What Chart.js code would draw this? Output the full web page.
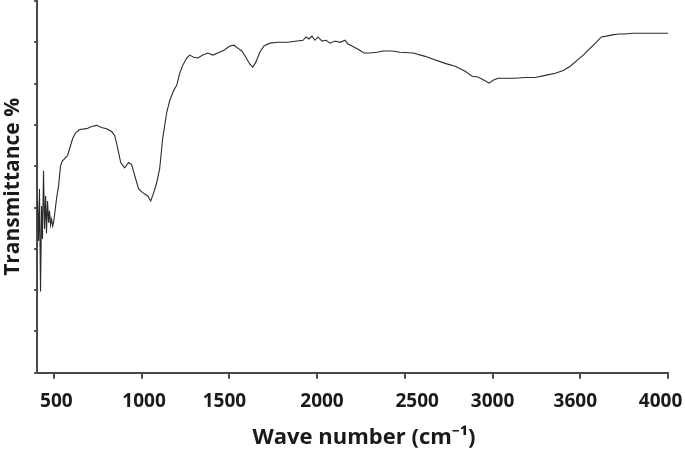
<!DOCTYPE html>
<html>
<head>
<meta charset="utf-8">
<script src="https://cdn.jsdelivr.net/npm/chart.js@4/dist/chart.umd.min.js"></script>
<style>
  html, body { margin: 0; padding: 0; background: #fff; }
  #wrap { width: 685px; height: 451px; }
</style>
</head>
<body>
<div id="wrap"><canvas id="ftirChart" width="685" height="451"></canvas></div>
<script>
// Wave numbers (cm-1) and transmittance
let waveNumbers = [
    407, 413, 418, 424, 430, 435, 441, 447, 453, 458, 464, 470, 475, 481, 487, 493, 498,
    504, 515, 527, 538, 549, 567, 578, 590, 607, 624, 647, 687, 715, 744, 772, 801, 829,
    847, 864, 881, 903, 926, 943, 961, 983, 1006, 1035, 1052, 1069, 1086, 1103, 1120,
    1143, 1160, 1183, 1200, 1217, 1234, 1257, 1274, 1297, 1320, 1349, 1377, 1406, 1434,
    1469, 1503, 1526, 1548, 1571, 1594, 1617, 1634, 1651, 1674, 1697, 1731, 1777, 1834,
    1886, 1920, 1937, 1954, 1971, 1988, 2005, 2028, 2051, 2074, 2102, 2131, 2159, 2176,
    2199, 2233, 2268, 2302, 2342, 2376, 2428, 2473, 2547, 2616, 2662, 2730, 2787, 2844,
    2884, 2918, 2952, 2981, 3003, 3032, 3072, 3129, 3186, 3243, 3301, 3358, 3403, 3443,
    3483, 3517, 3557, 3591, 3620, 3649, 3683, 3717, 3757, 3797, 3843, 3900, 3957, 4000
];
let transmittance = [
    41.6, 31.9, 44.5, 19.7, 40.4, 32.4, 48.9, 34.8, 42.8, 33.8, 41.6, 36.3, 39.2, 35.8, 37.2, 35.5, 36.3,
    38.2, 42.1, 45.3, 50.1, 51.3, 52.1, 52.6, 54.3, 56.7, 58.1, 58.9, 59.1, 59.6, 59.9, 59.4, 59.1, 58.4,
    57.4, 54.3, 50.9, 49.6, 50.9, 50.4, 47.7, 44.5, 43.6, 42.8, 41.6, 43.6, 46.0, 49.4, 56.7,
    63.0, 65.9, 68.4, 69.6, 72.5, 74.4, 76.2, 76.9, 76.4, 76.2, 76.9, 77.4, 76.9, 77.4,
    78.1, 79.1, 79.3, 78.6, 77.9, 76.4, 74.7, 74.0, 75.2, 77.6, 79.1, 79.8, 80.0, 80.0,
    80.3, 80.5, 81.3, 80.8, 81.5, 80.5, 81.3, 80.3, 80.5, 79.8, 80.3, 80.0, 80.5, 79.6,
    79.1, 78.3, 77.4, 77.4, 77.6, 77.9, 77.9, 77.6, 77.4, 76.6, 75.9, 74.9, 74.2, 73.0,
    71.8, 71.6, 70.8, 70.1, 70.8, 71.3, 71.3, 71.3, 71.5, 71.5, 72.0, 72.5, 73.2, 74.2,
    75.7, 76.9, 78.6, 80.0, 81.3, 81.5, 81.8, 82.0, 82.0, 82.2, 82.2, 82.2, 82.2, 82.2
];

// X axis ticks and the labels printed under them
let xTickValues = [500, 1000, 1500, 2000, 2500, 3000, 3500, 4000];
let xTickLabels = ['500', '1000', '1500', '2000', '2500', '3000', '3600', '4000'];

// small nudges for labels (non-breaking spaces, + = before, - = after)
const labelNudge = { 500: 1, 1000: 1, 1500: -2, 2000: 2, 2500: 5, 3500: -2, 4000: -3 };
const NBSP = '\u00A0';

function nudgeLabel(value, text) {
    let n = labelNudge[value] || 0;
    if (n > 0) return NBSP.repeat(n) + text;
    if (n < 0) return text + NBSP.repeat(-n);
    return text;
}

const axisColor = '#4a4a4a';
const textColor = '#1a1a1a';
const fontFamily = "'Open Sans', 'Noto Sans', sans-serif";

let points = waveNumbers.map((x, i) => ({ x: x, y: transmittance[i] }));

let ctx = document.getElementById('ftirChart').getContext('2d');
new Chart(ctx, {
    type: 'line',
    data: {
        datasets: [{
            data: points,
            borderColor: '#2a2a2a',
            borderWidth: 1.1,
            pointRadius: 0,
            tension: 0,
            fill: false
        }]
    },
    options: {
        responsive: false,
        devicePixelRatio: 1,
        animation: false,
        layout: { padding: { left: 0, top: 1, right: 17, bottom: 0 } },
        plugins: {
            legend: { display: false },
            tooltip: { enabled: false }
        },
        scales: {
            x: {
                type: 'linear',
                min: 405,
                max: 4000,
                afterBuildTicks: (scale) => {
                    scale.ticks = xTickValues.map(v => ({ value: v }));
                },
                afterFit: (scale) => {
                    scale.paddingLeft = 0;
                    scale.paddingRight = 0;
                },
                grid: {
                    display: true,
                    drawOnChartArea: false,
                    drawTicks: true,
                    tickLength: 6,
                    color: axisColor,
                    lineWidth: 2
                },
                border: { display: true, color: axisColor, width: 2 },
                ticks: {
                    padding: 11,
                    maxRotation: 0,
                    autoSkip: false,
                    color: textColor,
                    font: { family: fontFamily, size: 19, weight: 'bold' },
                    callback: (value) => {
                        let idx = xTickValues.indexOf(value);
                        return idx >= 0 ? nudgeLabel(value, xTickLabels[idx]) : '';
                    }
                },
                title: {
                    display: true,
                    text: NBSP.repeat(4) + 'Wave number (cm\u207B\u00B9)',
                    color: textColor,
                    font: { family: fontFamily, size: 22, weight: 'bold' },
                    padding: { top: 1, bottom: 0 }
                }
            },
            y: {
                min: 0,
                max: 90,
                ticks: { display: false, stepSize: 10 },
                grid: {
                    display: true,
                    drawOnChartArea: false,
                    drawTicks: true,
                    tickLength: 3,
                    color: axisColor,
                    lineWidth: 2
                },
                border: { display: true, color: axisColor, width: 2 },
                title: {
                    display: true,
                    text: 'Transmittance %',
                    color: textColor,
                    font: { family: fontFamily, size: 21, weight: 'bold' },
                    padding: { top: 0, bottom: 9 }
                }
            }
        }
    }
});
</script>
</body>
</html>
